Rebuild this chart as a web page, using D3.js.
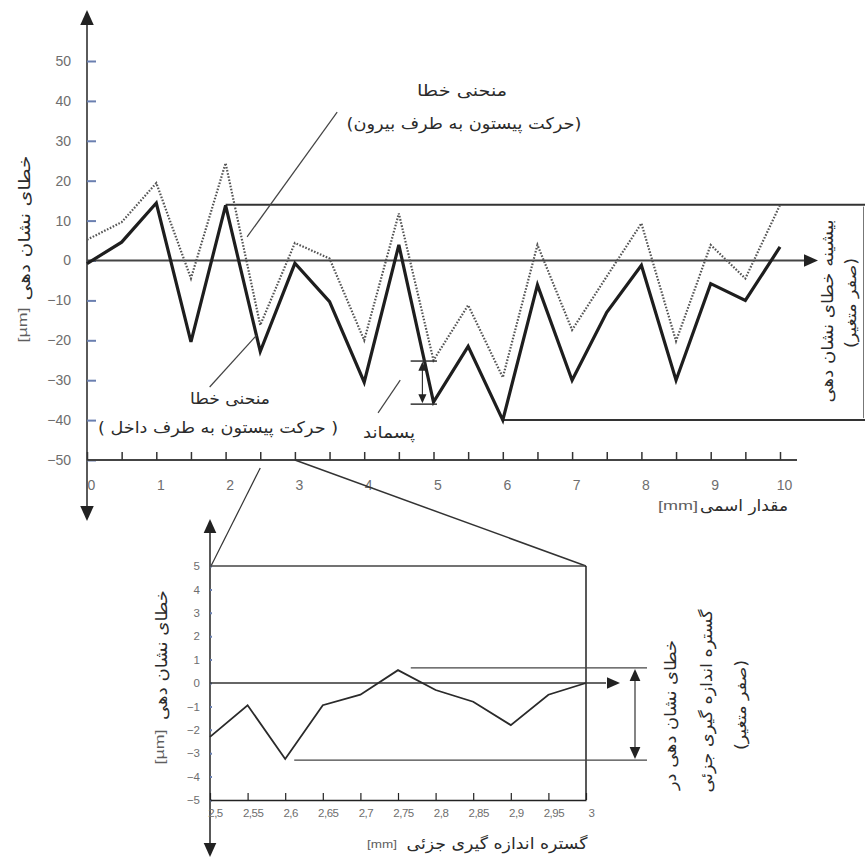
<!DOCTYPE html>
<html>
<head>
<meta charset="utf-8">
<script src="https://cdn.jsdelivr.net/npm/d3@7"></script>
<style>
  body { margin: 0; background: #fff; }
  svg { display: block; }
  .tick text { font-family: "Liberation Sans", Arial, sans-serif; fill: #6e6e6e; }
  .fa { font-family: "DejaVu Sans", sans-serif; fill: #2b2b2b; }
  .unit { font-family: "Liberation Sans", Arial, sans-serif; fill: #5e5e5e; }
</style>
</head>
<body>
<svg id="chart" width="865" height="859"></svg>
<script>
// main chart: nominal value [mm] vs indication error [µm]
const positions = [0, 0.5, 1, 1.5, 2, 2.5, 3, 3.5, 4, 4.5, 5, 5.5, 6, 6.5, 7, 7.5, 8, 8.5, 9, 9.5, 10];
const inward  = [-0.8, 4.6, 14.4, -20.4, 13.8, -22.8, -0.7, -10.3, -30.5, 3.9, -35.5, -21.5, -40, -6.1, -30, -13, -1.2, -30, -5.8, -10, 3.4];
const outward = [5.2, 9.6, 19.4, -4.5, 24.4, -16.2, 4.4, 0.5, -20, 11.8, -25, -11.2, -29.3, 3.9, -17.4, -4, 9.3, -20.2, 3.9, -4.5, 13.9];
const yTicks = [-50, -40, -30, -20, -10, 0, 10, 20, 30, 40, 50];

// zoomed part: 2.5 .. 3 mm
const partPos = [2.5, 2.55, 2.6, 2.65, 2.7, 2.75, 2.8, 2.85, 2.9, 2.95, 3];
const partErr = [-2.3, -0.95, -3.25, -0.95, -0.5, 0.55, -0.3, -0.8, -1.8, -0.5, 0];
const partYTicks = [-5, -4, -3, -2, -1, 0, 1, 2, 3, 4, 5];

const svg = d3.select('#chart');

const x = d3.scaleLinear().domain([0, 10]).range([87, 780]);
const y = d3.scaleLinear().domain([-50, 50]).range([460, 61]);
const x2 = d3.scaleLinear().domain([2.5, 3]).range([210, 586]);
const y2 = d3.scaleLinear().domain([-5, 5]).range([800, 566]);

const line = (xs, ys) => d3.line().x(d => xs(d[0])).y(d => ys(d[1]));
const pts = (xs, vs) => xs.map((d, i) => [d, vs[i]]);

function arrow(g, xa, ya, xb, yb, size, color) {
	// filled triangle, tip at (xb,yb)
	const a = Math.atan2(yb - ya, xb - xa);
	const w = size * 0.45;
	const bx = xb - size * Math.cos(a), by = yb - size * Math.sin(a);
	g.append('path')
		.attr('d', `M${xb},${yb}L${bx + w * Math.sin(a)},${by - w * Math.cos(a)}L${bx - w * Math.sin(a)},${by + w * Math.cos(a)}Z`)
		.attr('fill', color);
}

function seg(g, xa, ya, xb, yb, w, color) {
	return g.append('line')
		.attr('x1', xa).attr('y1', ya).attr('x2', xb).attr('y2', yb)
		.attr('stroke', color).attr('stroke-width', w);
}

// label centred on (cx,cy), stretched to the width seen in the picture
const label = (cls, rtl) => (g, cx, cy, txt, size, len, rot) => g.append('text')
	.attr('class', cls)
	.attr('direction', rtl ? 'rtl' : 'ltr')
	.attr('text-anchor', 'middle')
	.attr('font-size', size)
	.attr('dy', '0.35em')
	.attr('textLength', len)
	.attr('lengthAdjust', 'spacingAndGlyphs')
	.attr('transform', `translate(${cx},${cy})` + (rot ? ` rotate(${rot})` : ''))
	.text(txt);
const fa = label('fa', true);
const unit = label('unit', false);

const main = svg.append('g');

// y axis with arrows both ways
seg(main, x(0), 12, x(0), 518, 2, '#5a5a5a');
arrow(main, x(0), 40, x(0), 10, 15, '#222');
arrow(main, x(0), 490, x(0), 521, 15, '#222');

main.append('g')
	.attr('transform', `translate(${x(0)},0)`)
	.call(d3.axisLeft(y).tickValues(yTicks).tickSizeInner(-9).tickSizeOuter(0).tickPadding(16))
	.call(g => g.select('.domain').remove())
	.call(g => g.selectAll('.tick line').attr('stroke', '#6a7fb0').attr('stroke-width', 2))
	.call(g => g.selectAll('.tick text').attr('font-size', 14));

// x axis at -50
main.append('g')
	.attr('transform', `translate(0,${y(-50)})`)
	.call(d3.axisBottom(x).tickValues(positions).tickSizeInner(-8).tickSizeOuter(0).tickPadding(20)
		.tickFormat(d => Number.isInteger(d) ? d : ''))
	.call(g => g.select('.domain').attr('stroke', '#444').attr('stroke-width', 2).attr('d', `M${x(0)},0H797`))
	.call(g => g.selectAll('.tick line').attr('stroke', '#333').attr('stroke-width', 1.5))
	.call(g => g.selectAll('.tick text').attr('font-size', 14).attr('dx', 4));

// zero line with arrow
seg(main, x(0), y(0), 808, y(0), 2, '#444');
arrow(main, 790, y(0), 818, y(0), 14, '#222');

// max error reference lines
seg(main, x(2), y(14), 865, y(14), 2, '#333');
seg(main, x(6), y(-40), 865, y(-40), 2, '#333');
seg(main, 863.5, y(14) + 2, 863.5, y(-40) - 2, 1, '#777');

// curves
main.append('path')
	.datum(pts(positions, outward))
	.attr('d', line(x, y))
	.attr('fill', 'none')
	.attr('stroke', '#555')
	.attr('stroke-width', 2.2)
	.attr('stroke-dasharray', '1.6,1.6');
main.append('path')
	.datum(pts(positions, inward))
	.attr('d', line(x, y))
	.attr('fill', 'none')
	.attr('stroke', '#1e1e1e')
	.attr('stroke-width', 3.2);

// hysteresis bracket
seg(main, x(4.67), y(-25.2), x(5.05), y(-25.2), 1.5, '#333');
seg(main, x(4.67), y(-36), x(5.05), y(-36), 1.5, '#333');
seg(main, x(4.84), y(-26.5), x(4.84), y(-34.7), 1.2, '#333');
arrow(main, x(4.84), y(-30), x(4.84), y(-25.4), 9, '#222');
arrow(main, x(4.84), y(-31), x(4.84), y(-35.8), 9, '#222');

// leader lines
seg(main, x(3.61), y(37.2), x(2.31), y(5.9), 1.2, '#444');
seg(main, x(1.77), y(-31.7), x(2.45), y(-18.7), 1.2, '#444');
seg(main, x(4.2), y(-38.2), x(4.52), y(-30), 1.2, '#444');

// annotations
fa(main, 462, 90, 'منحنی خطا', 16, 90);
fa(main, 464, 123, '(حرکت پیستون به طرف بیرون)', 16, 235);
fa(main, 230, 398, 'منحنی خطا', 16, 80);
fa(main, 218, 427, '( حرکت پیستون به طرف داخل )', 16, 240);
fa(main, 389, 432, 'پسماند', 16, 52);
fa(main, 744, 505, 'مقدار اسمی', 16, 88);
unit(main, 678, 506, '[mm]', 12, 40);
fa(main, 24, 228, 'خطای نشان دهی', 16, 145, -90);
unit(main, 23, 325, '[µm]', 12, 35, -90);
fa(main, 827, 311, 'بیشینه خطای نشان دهی', 16, 183, -90);
fa(main, 851, 303, '(صفر متغیر)', 15, 90, -90);

// ---- zoomed part ----
const part = svg.append('g');

// connection lines from the 2.5..3 interval
seg(part, x(2.5), y(-50) + 8, x2(2.5) + 1, y2(5), 1.2, '#333');
seg(part, x(3), y(-50), x2(3), y2(5), 1.5, '#333');

// y axis
seg(part, x2(2.5), 528, x2(2.5), 848, 1.5, '#222');
arrow(part, x2(2.5), 545, x2(2.5), 519, 14, '#222');
arrow(part, x2(2.5), 830, x2(2.5), 857, 14, '#222');

part.append('g')
	.attr('transform', `translate(${x2(2.5)},0)`)
	.call(d3.axisLeft(y2).tickValues(partYTicks).tickSizeInner(-2).tickSizeOuter(0).tickPadding(10))
	.call(g => g.select('.domain').remove())
	.call(g => g.selectAll('.tick line').attr('stroke', '#6a7fb0').attr('stroke-width', 2))
	.call(g => g.selectAll('.tick text').attr('font-size', 11.5));

// frame
seg(part, x2(2.5), y2(5), x2(3), y2(5), 1.5, '#444');
seg(part, x2(3), y2(5), x2(3), y2(-5), 1.5, '#222');

part.append('g')
	.attr('transform', `translate(0,${y2(-5)})`)
	.call(d3.axisBottom(x2).tickValues(partPos).tickSizeInner(-7).tickSizeOuter(0).tickPadding(9)
		.tickFormat(d => d3.format('')(d).replace('.', ',')))
	.call(g => g.select('.domain').attr('stroke', '#222').attr('stroke-width', 1.5))
	.call(g => g.selectAll('.tick line').attr('stroke', '#222').attr('stroke-width', 1.2))
	.call(g => g.selectAll('.tick text').attr('font-size', 11.5).attr('dx', 5).attr('letter-spacing', -0.5));

// zero line
seg(part, x2(2.5), y2(0), 606, y2(0), 1.5, '#333');
arrow(part, 595, y2(0), 620, y2(0), 13, '#222');

// range lines and double arrow
seg(part, x2(2.767), y2(0.65), 647, y2(0.65), 1.3, '#444');
seg(part, x2(2.612), y2(-3.3), 647, y2(-3.3), 1.3, '#444');
seg(part, 635, y2(0.65) + 4, 635, y2(-3.3) - 4, 1.2, '#333');
arrow(part, 635, y2(-1), 635, y2(0.6), 12, '#222');
arrow(part, 635, y2(-2), 635, y2(-3.25), 12, '#222');

// partial curve
part.append('path')
	.datum(pts(partPos, partErr))
	.attr('d', line(x2, y2))
	.attr('fill', 'none')
	.attr('stroke', '#2a2a2a')
	.attr('stroke-width', 1.8);

fa(part, 497, 843, 'گستره اندازه گیری جزئی', 16, 181);
unit(part, 382, 844, '[mm]', 11, 30);
fa(part, 161, 655, 'خطای نشان دهی', 16, 130, -90);
unit(part, 160, 747, '[µm]', 12, 35, -90);
fa(part, 670, 715, 'خطای نشان دهی در', 16, 150, -90);
fa(part, 706, 701, 'گستره اندازه گیری جزئی', 16, 183, -90);
fa(part, 741, 705, '(صفر متغیر)', 15, 90, -90);
</script>
</body>
</html>
